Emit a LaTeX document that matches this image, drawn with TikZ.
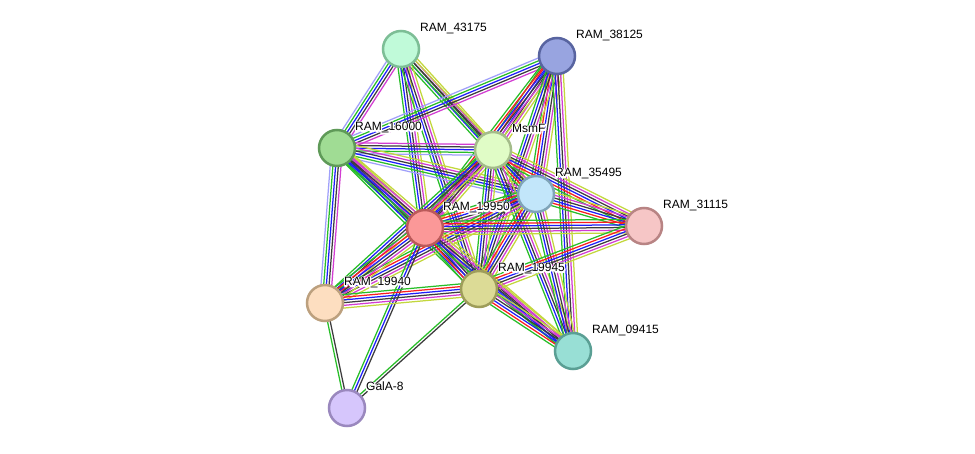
\documentclass[tikz,border=0pt]{standalone}
\usepackage{fontspec}
\setmainfont{Liberation Sans}
\usetikzlibrary{calc,backgrounds}
\definecolor{ca}{RGB}{160,160,250}
\definecolor{cg}{RGB}{40,190,40}
\definecolor{cr}{RGB}{250,30,30}
\definecolor{cb}{RGB}{30,30,250}
\definecolor{ck}{RGB}{60,60,60}
\definecolor{cm}{RGB}{210,60,210}
\definecolor{cy}{RGB}{195,215,60}
\newcommand\stredge[3]{%
  \gdef\nedge{0}%
  \foreach \c in {#3}{\pgfmathtruncatemacro\tmp{\nedge+1}\global\let\nedge\tmp}%
  \foreach \c [count=\i] in {#3}{%
    \pgfmathsetmacro\off{(\i-(\nedge+1)/2)*2.7}%
    \draw[line width=1.25pt, color=\c] ($(#1)!\off pt!90:(#2)$) -- ($(#2)!\off pt!-90:(#1)$);
  }%
}
\newcommand\halo[1]{\makebox[0pt][l]{\special{pdf:literal 1 Tr 2.6 w 1 J 1 j}\textcolor{white}{#1}\special{pdf:literal 0 Tr 0.4 w}}#1}
\begin{document}
\begin{tikzpicture}[x=1pt,y=-1pt,
  prot/.style={circle, minimum size=36pt, inner sep=0pt, line width=2.5pt},
  lbl/.style={font=\fontsize{12}{14}\selectfont, inner sep=0pt, anchor=base west, text=black}]
\useasboundingbox (0,0) rectangle (975,454);
\node[prot, fill={rgb,255:red,192;green,250;blue,217}, draw={rgb,255:red,125;green,190;blue,150}] (a) at (401,49) {};
\node[prot, fill={rgb,255:red,152;green,164;blue,224}, draw={rgb,255:red,88;green,100;blue,160}] (b) at (557,56) {};
\node[prot, fill={rgb,255:red,160;green,220;blue,148}, draw={rgb,255:red,95;green,154;blue,88}] (c) at (337,148) {};
\node[prot, fill={rgb,255:red,224;green,252;blue,198}, draw={rgb,255:red,164;green,188;blue,138}] (d) at (493,150) {};
\node[prot, fill={rgb,255:red,194;green,230;blue,250}, draw={rgb,255:red,127;green,164;blue,184}] (e) at (536,194) {};
\node[prot, fill={rgb,255:red,246;green,198;blue,198}, draw={rgb,255:red,184;green,132;blue,132}] (f) at (644,226) {};
\node[prot, fill={rgb,255:red,251;green,152;blue,152}, draw={rgb,255:red,187;green,90;blue,90}] (g) at (425,228) {};
\node[prot, fill={rgb,255:red,220;green,219;blue,150}, draw={rgb,255:red,158;green,157;blue,90}] (h) at (479,289) {};
\node[prot, fill={rgb,255:red,253;green,222;blue,192}, draw={rgb,255:red,188;green,160;blue,126}] (i) at (325,303) {};
\node[prot, fill={rgb,255:red,152;green,223;blue,213}, draw={rgb,255:red,90;green,159;blue,148}] (j) at (573,351) {};
\node[prot, fill={rgb,255:red,214;green,198;blue,252}, draw={rgb,255:red,154;green,136;blue,190}] (k) at (347,408) {};
\begin{pgfonlayer}{background}
\fill[white] (0,0) rectangle (975,454);
\stredge{a}{c}{ca,cg,cb,ck,cm}
\stredge{a}{d}{cg,cb,ck,cm,cy}
\stredge{a}{g}{cg,cb,ck,cm,cy}
\stredge{a}{h}{cg,cb,ck,cm,cy}
\stredge{a}{e}{cg,ck,cy}
\stredge{b}{c}{ca,cg,cb,ck,cm}
\stredge{b}{d}{cg,cr,cb,ck,cm,cy}
\stredge{b}{g}{cg,cr,cb,ck,cm,cy}
\stredge{b}{e}{cg,cr,cb,ck,cm,cy}
\stredge{b}{h}{cg,cb,ck,cm,cy}
\stredge{b}{j}{cg,cb,ck,cm,cy}
\stredge{c}{d}{ca,cg,cb,ck,cm}
\stredge{c}{e}{ca,cg,cb,ck,cm,cy}
\stredge{c}{g}{cg,cb,ck,cm,cy}
\stredge{c}{h}{cg,cb,ck,cm,cy}
\stredge{c}{i}{ca,cg,cb,ck,cm}
\stredge{c}{j}{cg,cb,ck,cm,cy}
\stredge{d}{e}{cg,cr,cb,ck,cm,cy}
\stredge{d}{f}{cg,cr,cb,ck,cm,cy}
\stredge{d}{g}{cg,cr,cb,ck,cm,cy}
\stredge{d}{h}{cg,cb,ck,cm,cy}
\stredge{d}{j}{cg,cb,ck,cm,cy}
\stredge{d}{i}{cg,cb,ck,cm,cy}
\stredge{e}{f}{cg,cr,cb,ck,cm,cy}
\stredge{e}{g}{cg,cr,cb,ck,cm,cy}
\stredge{e}{h}{cg,cr,cb,ck,cm,cy}
\stredge{e}{j}{cg,cb,ck,cm,cy}
\stredge{e}{i}{cg,cr,cb,ck,cm,cy}
\stredge{f}{g}{cg,cr,cb,ck,cm,cy}
\stredge{f}{h}{cg,cr,cb,ck,cm,cy}
\stredge{g}{h}{cg,cr,cb,ck,cm,cy}
\stredge{g}{i}{cg,cr,cb,ck,cm,cy}
\stredge{g}{j}{cg,cb,ck,cm,cy}
\stredge{g}{k}{cg,cb,ck}
\stredge{h}{i}{cg,cr,cb,ck,cm,cy}
\stredge{h}{j}{cg,cr,cb,ck,cm,cy}
\stredge{h}{k}{cg,ck}
\stredge{i}{k}{cg,ck}
\end{pgfonlayer}
\node[lbl] (la) at ($(a)+(19,-17)$) {\halo{RAM\_43175}};
\node[lbl] (lb) at ($(b)+(19,-17)$) {\halo{RAM\_38125}};
\node[lbl] (lc) at ($(c)+(18,-17)$) {\halo{RAM\_16000}};
\node[lbl] (ld) at ($(d)+(19,-17)$) {\halo{MsmF}};
\node[lbl] (le) at ($(e)+(19,-17)$) {\halo{RAM\_35495}};
\node[lbl] (lf) at ($(f)+(19,-17)$) {\halo{RAM\_31115}};
\node[lbl] (lg) at ($(g)+(18,-17)$) {\halo{RAM\_19950}};
\node[lbl] (lh) at ($(h)+(19,-17)$) {\halo{RAM\_19945}};
\node[lbl] (li) at ($(i)+(19,-17)$) {\halo{RAM\_19940}};
\node[lbl] (lj) at ($(j)+(19,-17)$) {\halo{RAM\_09415}};
\node[lbl] (lk) at ($(k)+(19,-17)$) {\halo{GalA-8}};
\end{tikzpicture}
\end{document}
